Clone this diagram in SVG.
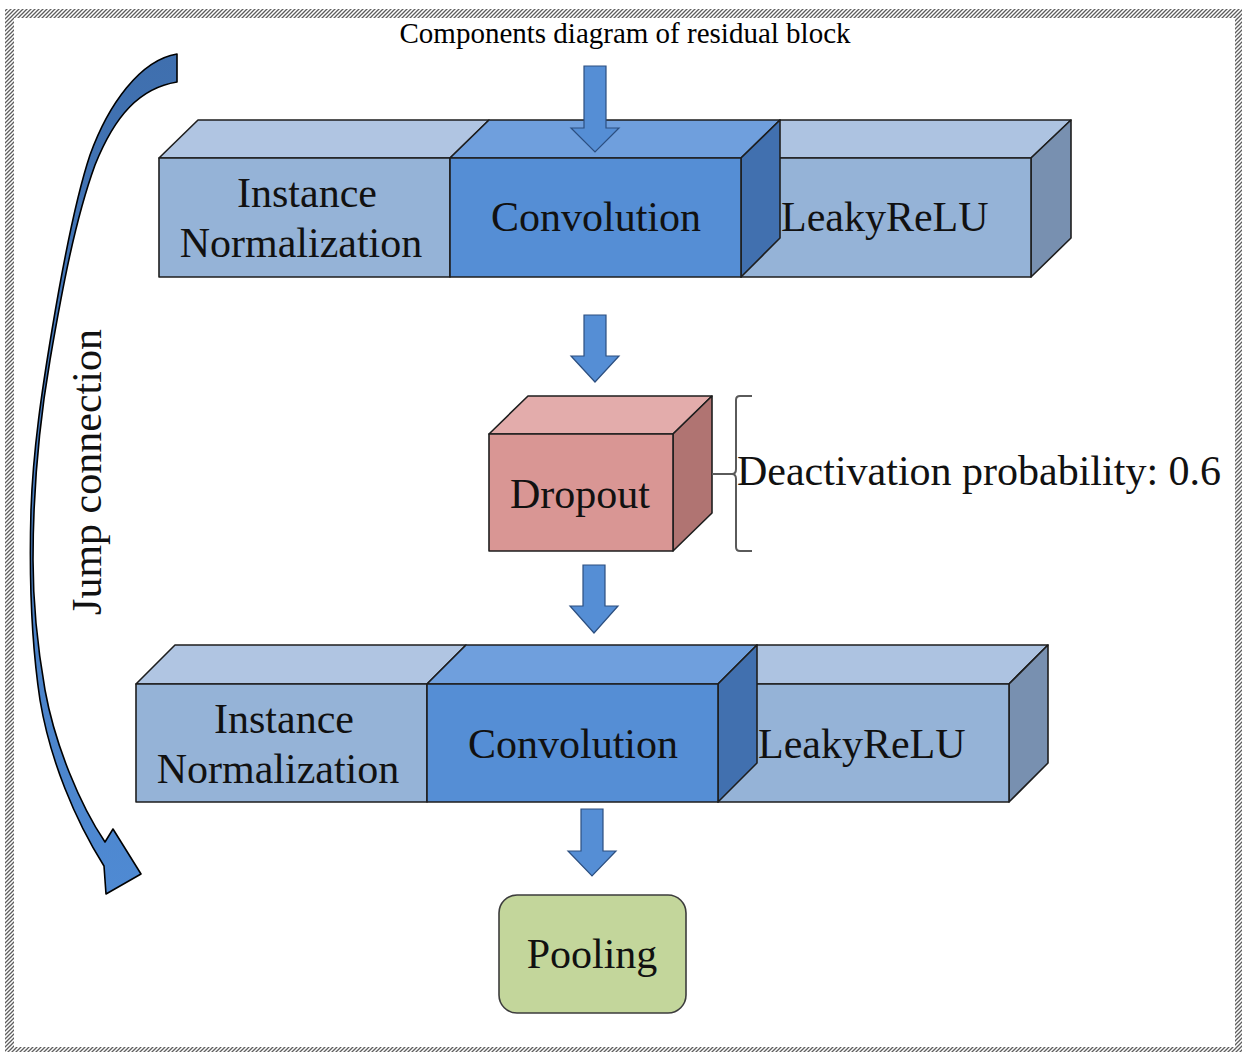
<svg xmlns="http://www.w3.org/2000/svg" width="1243" height="1052" viewBox="0 0 1243 1052">
  <defs>
    <pattern id="hatch" width="4" height="4" patternUnits="userSpaceOnUse">
      <rect width="4" height="4" fill="#ffffff"/>
      <path d="M-1,1 l2,-2 M0,4 l4,-4 M3,5 l2,-2" stroke="#5e5e5e" stroke-width="1.3"/>
    </pattern>
    <linearGradient id="jumpFill" x1="0" y1="0" x2="0" y2="1">
      <stop offset="0" stop-color="#3f6fae"/>
      <stop offset="1" stop-color="#4f8ad3"/>
    </linearGradient>
    <style>
      .lbl { font-family: "Liberation Serif", "Times New Roman", serif; font-size: 42px; fill: #111111; }
      .mid { text-anchor: middle; }
      .title { font-family: "Liberation Serif", "Times New Roman", serif; font-size: 29px; fill: #000000; text-anchor: middle; }
      .edge { stroke: #1e1e1e; stroke-width: 1.6; stroke-linejoin: round; }
      .in-front { fill: #95b3d7; }
      .in-top { fill: #b0c5e2; }
      .cv-front { fill: #558ed5; }
      .cv-top { fill: #6f9fdd; }
      .cv-side { fill: #4170af; }
      .lr-front { fill: #95b3d7; }
      .lr-top { fill: #adc3e1; }
      .lr-side { fill: #7890b0; }
      .flow { fill: #558ed5; stroke: #2c4f80; stroke-width: 1.2; stroke-linejoin: miter; }
    </style>
  </defs>

  <rect width="1243" height="1052" fill="#ffffff"/>

  <!-- hatched page frame -->
  <g id="frame" fill="url(#hatch)">
    <rect x="5" y="9" width="1236" height="9"/>
    <rect x="5" y="9" width="9" height="1043"/>
    <rect x="1235" y="9" width="7" height="1043"/>
    <rect x="5" y="1047" width="1237" height="5"/>
  </g>

  <text class="title" x="625" y="43">Components diagram of residual block</text>

  <!-- upper stage: instance norm / convolution / LeakyReLU -->
  <g id="norm1">
    <polygon class="in-top edge" points="159,158 198,120 489,120 450,158"/>
    <rect class="in-front edge" x="159" y="158" width="291" height="119"/>
    <text class="lbl mid" x="307" y="207">Instance</text>
    <text class="lbl mid" x="301" y="257">Normalization</text>
  </g>
  <g id="relu1">
    <polygon class="lr-top edge" points="741,158 780,120 1071,120 1031,158"/>
    <polygon class="lr-side edge" points="1031,158 1071,120 1071,238 1031,277"/>
    <rect class="lr-front edge" x="741" y="158" width="290" height="119"/>
    <text class="lbl" x="781" y="231">LeakyReLU</text>
  </g>
  <g id="conv1">
    <polygon class="cv-top edge" points="450,158 489,120 780,120 741,158"/>
    <polygon class="cv-side edge" points="741,158 780,120 780,238 741,277"/>
    <rect class="cv-front edge" x="450" y="158" width="291" height="119"/>
    <text class="lbl mid" x="596" y="231">Convolution</text>
  </g>

  <!-- dropout cube -->
  <g id="dropout">
    <polygon class="edge" fill="#e3acab" points="489,434 528,396 712,396 673,434"/>
    <polygon class="edge" fill="#b07472" points="673,434 712,396 712,513 673,551"/>
    <rect class="edge" fill="#d99694" x="489" y="434" width="184" height="117"/>
    <text class="lbl mid" x="580" y="508">Dropout</text>
  </g>

  <!-- dropout rate annotation -->
  <g id="dropout-rate">
    <path d="M712,474 H732 M752,396 H740 Q736,396 736,400 V469 Q736,474 732,474 Q736,474 736,479 V547 Q736,551 740,551 H752" fill="none" stroke="#5a5a5a" stroke-width="2"/>
    <text class="lbl" x="737" y="485">Deactivation probability: 0.6</text>
  </g>

  <!-- lower stage: instance norm / convolution / LeakyReLU -->
  <g id="norm2">
    <polygon class="in-top edge" points="136,684 175,645 466,645 427,684"/>
    <rect class="in-front edge" x="136" y="684" width="291" height="118"/>
    <text class="lbl mid" x="284" y="733">Instance</text>
    <text class="lbl mid" x="278" y="783">Normalization</text>
  </g>
  <g id="relu2">
    <polygon class="lr-top edge" points="718,684 757,645 1048,645 1009,684"/>
    <polygon class="lr-side edge" points="1009,684 1048,645 1048,763 1009,802"/>
    <rect class="lr-front edge" x="718" y="684" width="291" height="118"/>
    <text class="lbl" x="758" y="758">LeakyReLU</text>
  </g>
  <g id="conv2">
    <polygon class="cv-top edge" points="427,684 466,645 757,645 718,684"/>
    <polygon class="cv-side edge" points="718,684 757,645 757,763 718,802"/>
    <rect class="cv-front edge" x="427" y="684" width="291" height="118"/>
    <text class="lbl mid" x="573" y="758">Convolution</text>
  </g>

  <!-- pooling -->
  <g id="pooling">
    <rect x="499" y="895" width="187" height="118" rx="18" ry="18" fill="#c3d69b" stroke="#3d3d3d" stroke-width="1.6"/>
    <text class="lbl mid" x="592" y="968">Pooling</text>
  </g>

  <!-- connectors -->
  <g id="connectors">
    <path class="flow" d="M584,66 H606 V128 H619 L595,152 L571,128 H584 Z"/>
    <path class="flow" d="M584,315 H606 V356 H619 L595,382 L571,356 H584 Z"/>
    <path class="flow" d="M583,565 H605 V606 H618 L594,633 L570,606 H583 Z"/>
    <path class="flow" d="M581,809 H603 V851 H616 L592,876 L568,851 H581 Z"/>
    <!-- skip path around the block -->
    <path id="jump" fill="url(#jumpFill)" stroke="#000000" stroke-width="1.6" stroke-linejoin="round"
      d="M177,54 C140,60 108,105 90,155 C75,200 62,270 52,330 C42,390 33,450 31,510 C29,580 31,640 40,700 C50,760 75,820 104,866 L106,894 L141,874 L113,829 L105,842 C80,805 55,745 45,690 C38,650 33,610 33,560 C33,500 38,430 50,360 C62,290 75,220 95,165 C115,115 140,88 177,82 Z"/>
    <text class="lbl mid" transform="translate(101,472) rotate(-90)">Jump connection</text>
  </g>
</svg>
